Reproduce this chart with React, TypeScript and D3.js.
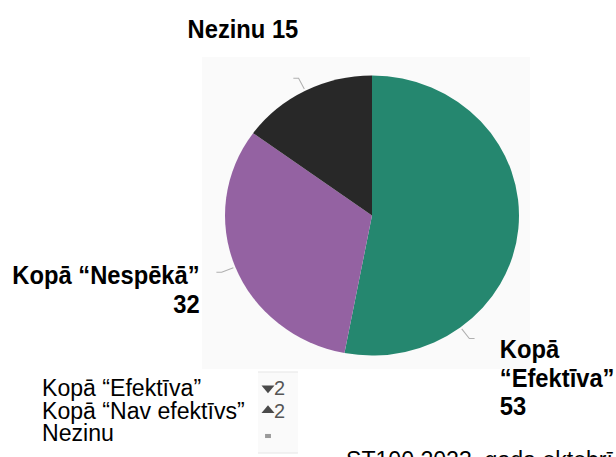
import React from 'react';
import * as d3 from 'd3';

// slice data, clockwise from 12 o'clock
const sliceNames = ['Kopā “Efektīva”', 'Kopā “Nespēkā”', 'Nezinu'];
const sliceValues = [53, 32, 15];
const sliceColors = ['#25876f', '#9462a2', '#282828'];

// legend block under the pie
const legendLabels = ['Kopā “Efektīva”', 'Kopā “Nav efektīvs”', 'Nezinu'];
const legendChanges = [-2, 2, 0];

const footnote = 'ST100 2023. gada oktobrī';

const W = 616;
const H = 457;
const SX = 1.05; // the source image is stretched a little horizontally
const TY = 1.1; // and its text looks a bit taller

export default function App() {
  const cx = 372 / SX;
  const cy = 215.5;
  const r = 140;

  const pie = d3.pie<number>().sort(null).value(d => d)(sliceValues);
  const arc = d3.arc<d3.PieArcDatum<number>>().innerRadius(0).outerRadius(r);

  // leader lines: green one sits lower than its midpoint
  const leaderAngle = (i: number) => {
    const p = pie[i];
    if (i === 0) return (143 * Math.PI) / 180;
    return (p.startAngle + p.endAngle) / 2;
  };

  const labelFont = '"Liberation Sans", Arial, Helvetica, sans-serif';

  const labelLayout = [
    { anchor: 'start', dx: 24, dy: 20, lines: (n: string, v: number) => [...n.split(' '), String(v)] },
    { anchor: 'end', dx: -16, dy: 12, lines: (n: string, v: number) => [n, String(v)] },
    { anchor: 'middle', dx: -48, dy: -40, lines: (n: string, v: number) => [`${n} ${v}`] },
  ];

  const leaders = pie.map((p, i) => {
    const a = leaderAngle(i);
    const sin = Math.sin(a);
    const cos = -Math.cos(a);
    const p0: [number, number] = [cx + (r + 2) * sin, cy + (r + 2) * cos];
    const p1: [number, number] = [cx + (r + 14) * sin, cy + (r + 14) * cos];
    const p2: [number, number] = [p1[0] + (sin >= 0 ? 5 : -5), p1[1]];
    return { p0, p1, p2 };
  });

  const line = d3.line();

  const legendY = d3.scalePoint<number>().domain(d3.range(legendLabels.length)).range([396, 441]);

  return (
    <svg width={W} height={H} style={{ position: 'absolute', left: 0, top: 0, background: '#fff' }}>
      <g transform={`scale(${SX},1)`}>
        {/* faint plot area */}
        <rect x={202 / SX} y={57} width={328 / SX} height={312} fill="#fafafa" />

        <g transform={`translate(${cx},${cy})`}>
          {pie.map((p, i) => (
            <path key={i} d={arc(p) || ''} fill={sliceColors[i]} />
          ))}
        </g>

        {leaders.map((l, i) => (
          <path key={i} d={line([l.p0, l.p1, l.p2]) || ''} fill="none" stroke="#b0b0b0" strokeWidth={1} />
        ))}

        {pie.map((p, i) => {
          const lay = labelLayout[i];
          const l = leaders[i];
          const x = l.p2[0] + lay.dx;
          const y = l.p2[1] + lay.dy;
          return (
            <text
              key={i}
              transform={`translate(${x},${y}) scale(1,${TY})`}
              textAnchor={lay.anchor}
              fontFamily={labelFont}
              fontWeight="bold"
              fontSize={22.6}
              fill="#000"
            >
              {lay.lines(sliceNames[i], sliceValues[i]).map((t, j) => (
                <tspan key={j} x={0} dy={j === 0 ? 0 : 28.5 / TY}>
                  {t}
                </tspan>
              ))}
            </text>
          );
        })}

        {/* legend */}
        {legendLabels.map((t, i) => (
          <text
            key={i}
            transform={`translate(${42 / SX},${legendY(i)}) scale(1,${TY})`}
            fontFamily={labelFont}
            fontSize={22}
            fill="#000"
          >
            {t}
          </text>
        ))}

        <rect x={258 / SX} y={372} width={40 / SX} height={81} fill="#fafafa" />
        <line x1={258 / SX} x2={298 / SX} y1={372} y2={372} stroke="#e6e6e6" />
        <line x1={258 / SX} x2={298 / SX} y1={453} y2={453} stroke="#e6e6e6" />
        {legendChanges.map((c, i) => {
          const y = legendY(i)! - 8;
          const sym = c === 0 ? d3.symbolSquare : d3.symbolTriangle;
          const size = c === 0 ? 26 : 55;
          const rot = c < 0 ? 180 : 0;
          return (
            <g key={i}>
              <path
                d={d3.symbol().type(sym).size(size)() || ''}
                transform={`translate(${268 / SX},${c === 0 ? y + 3 : y}) scale(1.1,0.8) rotate(${rot})`}
                fill={c === 0 ? '#9a9a9a' : '#4a4a4a'}
              />
              {c !== 0 && (
                <text
                  transform={`translate(${274 / SX},${y + 7}) scale(1,${TY})`}
                  fontFamily={labelFont}
                  fontSize={19}
                  fill="#555"
                >
                  {Math.abs(c)}
                </text>
              )}
            </g>
          );
        })}

        <text
          transform={`translate(${346 / SX},468) scale(1,${TY})`}
          fontFamily={labelFont}
          fontSize={22}
          fill="#000"
        >
          {footnote}
        </text>
      </g>
    </svg>
  );
}
